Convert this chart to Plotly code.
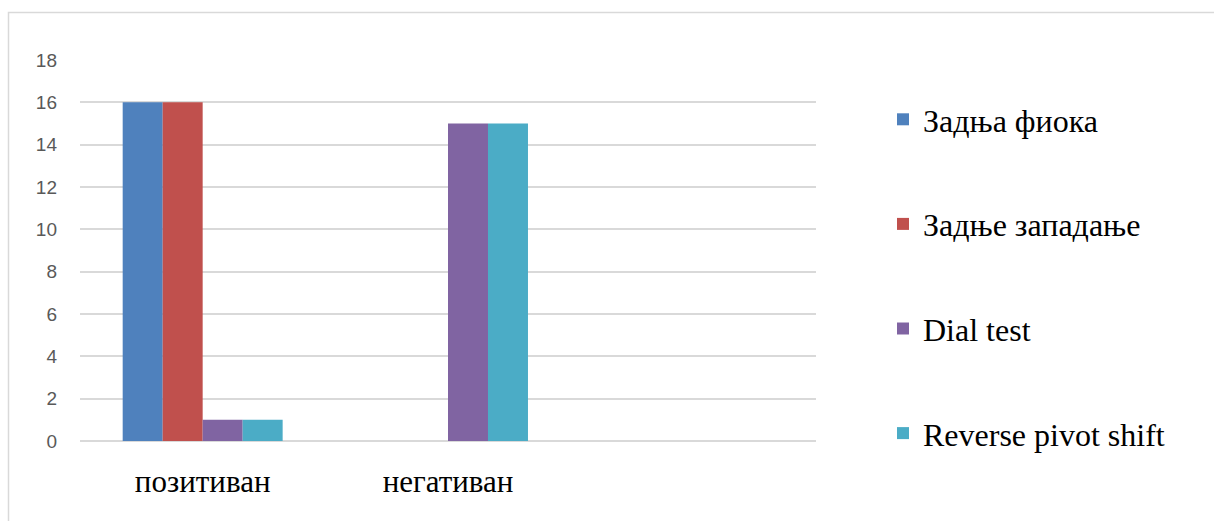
import plotly.graph_objects as go

# Category slots on the x axis (third slot is left empty)
categories = ["позитиван", "негативан", ""]
series_names = ["Задња фиока", "Задње западање", "Dial test", "Reverse pivot shift"]
zadnja_fioka = [16, 0]
zadnje_zapadanje = [16, 0]
dial_test = [1, 15]
reverse_pivot_shift = [1, 15]
y_ticks = [0, 2, 4, 6, 8, 10, 12, 14, 16, 18]

colors = ["#4F81BD", "#C0504D", "#8064A2", "#4BACC6"]
values = [zadnja_fioka, zadnje_zapadanje, dial_test, reverse_pivot_shift]

fig = go.Figure()
for i, (name, vals, col) in enumerate(zip(series_names, values, colors)):
    fig.add_trace(go.Bar(
        x=list(range(len(vals))),
        y=vals,
        name=name,
        marker=dict(color=col, line=dict(width=0)),
        legendgroup=f"g{i}",
    ))

# Plot-area geometry in pixels (for the outer chart border)
W, H = 1214, 521
L, R, T, B = 80, 816, 60, 441
pw, ph = R - L, B - T

def px_x(x):
    return (x - L) / pw

def px_y(y):
    return (B - y) / ph

fig.update_layout(
    width=W, height=H,
    margin=dict(l=L, r=W - R, t=T, b=H - B),
    paper_bgcolor="white",
    plot_bgcolor="white",
    barmode="group",
    bargap=0.348,
    bargroupgap=0,
    showlegend=True,
    legend=dict(
        x=px_x(883), xanchor="left",
        y=px_y(92), yanchor="top",
        font=dict(family="Liberation Serif", size=32, color="#000000"),
        traceorder="grouped",
        tracegroupgap=60,
        bgcolor="rgba(0,0,0,0)",
        itemclick=False, itemdoubleclick=False,
    ),
    xaxis=dict(
        range=[-0.5, 2.5],
        tickmode="array",
        tickvals=[0, 1, 2],
        ticktext=categories,
        showgrid=False,
        zeroline=False,
        showline=False,
        ticks="",
        ticklabelstandoff=19,
        tickfont=dict(family="Liberation Serif", size=31, color="#000000"),
        fixedrange=True,
    ),
    yaxis=dict(
        range=[0, 18],
        tickmode="array",
        tickvals=y_ticks,
        showgrid=True,
        gridcolor="#D9D9D9",
        gridwidth=1.5,
        zeroline=True,
        zerolinecolor="#D9D9D9",
        zerolinewidth=1.5,
        showline=False,
        ticks="",
        ticklabelstandoff=22,
        tickfont=dict(family="Liberation Sans", size=19, color="#595959"),
        fixedrange=True,
    ),
    shapes=[
        dict(
            type="rect", xref="paper", yref="paper",
            x0=px_x(8.5), x1=px_x(1216), y0=px_y(540), y1=px_y(12.5),
            line=dict(color="#D9D9D9", width=1.5),
            fillcolor="rgba(0,0,0,0)", layer="below",
        )
    ],
)

fig.write_html("out.html", config={"displayModeBar": False})
